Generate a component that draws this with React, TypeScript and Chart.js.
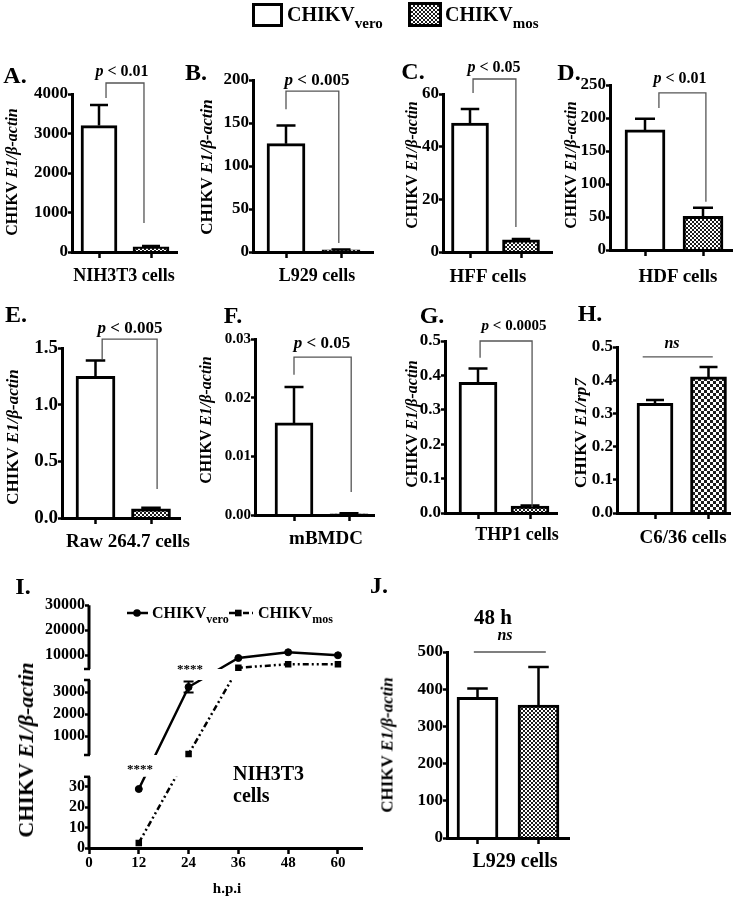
import React, { useEffect, useRef } from 'react';
import { Chart, registerables } from 'chart.js';

Chart.register(...registerables);

const FONT = "'Liberation Serif', 'Times New Roman', Times, serif";

// ---------- data ----------
const GROUPS = ['CHIKVvero', 'CHIKVmos'];

const A_MEAN = [3200, 130];
const A_SEM = [520, 20];
const B_MEAN = [126, 2.5];
const B_SEM = [21, 0.5];
const C_MEAN = [49, 4.6];
const C_SEM = [5.3, 0.3];
const D_MEAN = [182, 51];
const D_SEM = [17, 13];
const E_MEAN = [1.25, 0.08];
const E_SEM = [0.14, 0.01];
const F_MEAN = [0.0157, 0.0002];
const F_SEM = [0.0061, 0.0001];
const G_MEAN = [0.38, 0.02];
const G_SEM = [0.04, 0.002];
const H_MEAN = [0.33, 0.41];
const H_SEM = [0.01, 0.03];
const J_MEAN = [378, 357];
const J_SEM = [24, 103];

const I_HOURS = [12, 24, 36, 48, 60];
const I_VERO = [29, 3230, 8900, 11200, 10000];
const I_VERO_SEM = [0, 250, 0, 0, 0];
const I_MOS = [2.5, 180, 5000, 6400, 6400];
const I_X_TICKS = [0, 12, 24, 36, 48, 60];
const I_Y_TICKS = [0, 10, 20, 30, 1000, 2000, 3000, 10000, 20000, 30000];

// broken y-axis of panel I: value range -> virtual range (1 virtual unit = 1px)
const I_BREAKS = [
  { lo: 0, hi: 35, from: 0, to: 71.2 },
  { lo: 140, hi: 3550, from: 93, to: 168 },
  { lo: 4500, hi: 30000, from: 179, to: 242.75 },
];

function toV(val: number) {
  for (const s of I_BREAKS) {
    if (val <= s.hi) return s.from + ((val - s.lo) / (s.hi - s.lo)) * (s.to - s.from);
  }
  const s = I_BREAKS[I_BREAKS.length - 1];
  return s.from + ((val - s.lo) / (s.hi - s.lo)) * (s.to - s.from);
}

// ---------- bar panel layout ----------
const PANELS: any[] = [
  { key: 'A', mean: A_MEAN, sem: A_SEM, max: 4000, step: 1000, dec: 0, L: 72, R: 177, c1: 99, c2: 151, y0: 252, yTop: 94, barW: 36, font: 17, cell: 2,
    bracket: { x1: 1.135, x2: 1.865, top: 4278, y1: 3899, y2: 734 } },
  { key: 'B', mean: B_MEAN, sem: B_SEM, max: 200, step: 50, dec: 0, L: 253, R: 373, c1: 286, c2: 341, y0: 252, yTop: 80, barW: 38, font: 17, cell: 2,
    bracket: { x1: 1.0, x2: 1.96, top: 187, y1: 166, y2: 10.5 } },
  { key: 'C', mean: C_MEAN, sem: C_SEM, max: 60, step: 20, dec: 0, L: 443, R: 552, c1: 470, c2: 521, y0: 252, yTop: 94, barW: 37, font: 17, cell: 2,
    bracket: { x1: 1.06, x2: 1.9, top: 65.7, y1: 60.4, y2: 9.5 } },
  { key: 'D', mean: D_MEAN, sem: D_SEM, max: 250, step: 50, dec: 0, L: 610, R: 732, c1: 645, c2: 703, y0: 250, yTop: 85, barW: 40, font: 17, cell: 2,
    bracket: { x1: 1.24, x2: 2.05, top: 238, y1: 215, y2: 73 } },
  { key: 'E', mean: E_MEAN, sem: E_SEM, max: 1.5, step: 0.5, dec: 1, L: 62, R: 180, c1: 95.5, c2: 151, y0: 518, yTop: 348, barW: 39, font: 19, cell: 2,
    bracket: { x1: 1.12, x2: 2.11, top: 1.579, y1: 1.4, y2: 0.256 } },
  { key: 'F', mean: F_MEAN, sem: F_SEM, max: 0.03, step: 0.01, dec: 2, L: 255, R: 374, c1: 294, c2: 349, y0: 515, yTop: 339, barW: 38, font: 15, cell: 2,
    bracket: { x1: 1.0, x2: 2.04, top: 0.0269, y1: 0.0239, y2: 0.0039 } },
  { key: 'G', mean: G_MEAN, sem: G_SEM, max: 0.5, step: 0.1, dec: 1, L: 445, R: 557, c1: 478, c2: 530, y0: 513, yTop: 341, barW: 38, font: 17, cell: 2,
    bracket: { x1: 1.04, x2: 2.04, top: 0.5, y1: 0.451, y2: 0.0174 } },
  { key: 'H', mean: H_MEAN, sem: H_SEM, max: 0.5, step: 0.1, dec: 1, L: 617, R: 730, c1: 655, c2: 708.5, y0: 513, yTop: 347, barW: 36, font: 17, cell: 3,
    bracket: { x1: 0.77, x2: 2.08, top: 0.47, y1: 0.47, y2: 0.47 } },
  { key: 'J', mean: J_MEAN, sem: J_SEM, max: 500, step: 100, dec: 0, L: 447, R: 569, c1: 477.5, c2: 538.5, y0: 838, yTop: 652, barW: 41, font: 17, cell: 2,
    bracket: { x1: 0.94, x2: 2.12, top: 500, y1: 500, y2: 500 } },
];

const WY = 50;
const HX = 10;

function barGeom(p: any) {
  const left = p.L - 60;
  const top = p.yTop - 50;
  const right = Math.min(p.R + 6, 736);
  const bottom = p.y0 + 15;
  return {
    left, top, width: right - left, height: bottom - top,
    pad: { left: 60 - WY, top: 50, right: right - p.R, bottom: 15 - HX },
  };
}

function tile(size: number, dark: string) {
  const c = document.createElement('canvas');
  c.width = size * 2;
  c.height = size * 2;
  const g = c.getContext('2d')!;
  g.fillStyle = '#fff';
  g.fillRect(0, 0, size * 2, size * 2);
  g.fillStyle = dark;
  g.fillRect(0, 0, size, size);
  g.fillRect(size, size, size, size);
  return c;
}

function buildBar(canvas: HTMLCanvasElement, p: any) {
  const geo = barGeom(p);
  const ctx = canvas.getContext('2d')!;
  const pat = ctx.createPattern(tile(p.cell, '#1c1c1c'), 'repeat');
  const unit = p.c2 - p.c1;
  const xmin = 1 - (p.c1 - p.L) / unit;
  const xmax = 2 + (p.R - p.c2) / unit;
  const tickFont = { family: FONT, size: p.font, weight: 'bold' as const };
  return new Chart(canvas, {
    type: 'bar',
    data: {
      datasets: [
        {
          label: GROUPS.join(' / '),
          data: p.mean.map((v: number, i: number) => ({ x: i + 1, y: v })),
          backgroundColor: ['#ffffff', pat as any],
          borderColor: '#000',
          borderWidth: 3,
          barThickness: p.barW,
          borderSkipped: 'start',
        } as any,
      ],
    },
    options: {
      animation: false,
      responsive: false,
      events: [],
      layout: { padding: geo.pad },
      plugins: { legend: { display: false }, tooltip: { enabled: false } },
      scales: {
        x: {
          type: 'linear',
          min: xmin,
          max: xmax,
          offset: false,
          afterBuildTicks: (s: any) => { s.ticks = [{ value: 1 }, { value: 2 }]; },
          afterFit: (s: any) => { s.height = HX; },
          ticks: { autoSkip: false, callback: () => '', font: tickFont },
          grid: { display: true, offset: false, drawOnChartArea: false, drawTicks: true, tickLength: 6, tickWidth: 2.5, tickColor: '#000' },
          border: { display: true, color: '#000', width: 3, z: 1 },
        } as any,
        y: {
          type: 'linear',
          min: 0,
          max: p.max,
          afterFit: (s: any) => { s.width = WY; },
          ticks: {
            stepSize: p.step,
            autoSkip: false,
            padding: 0,
            color: '#000',
            font: tickFont,
            callback: (v: any) => Number(v).toFixed(p.dec),
          },
          grid: { display: true, drawOnChartArea: false, drawTicks: true, tickLength: 4, tickWidth: 2.5, tickColor: '#000' },
          border: { display: true, color: '#000', width: 3, z: 1 },
        } as any,
      },
    },
    plugins: [
      {
        id: 'annot' + p.key,
        afterDatasetsDraw(chart: any) {
          const c = chart.ctx;
          const x = chart.scales.x;
          const y = chart.scales.y;
          c.save();
          c.strokeStyle = '#000';
          c.lineWidth = 2.5;
          p.mean.forEach((m: number, i: number) => {
            const e = p.sem[i];
            if (!e) return;
            const px = x.getPixelForValue(i + 1);
            const yb = y.getPixelForValue(m);
            const yt = y.getPixelForValue(m + e);
            const hw = p.barW / 4;
            c.beginPath();
            c.moveTo(px, yb);
            c.lineTo(px, yt);
            c.moveTo(px - hw, yt);
            c.lineTo(px + hw, yt);
            c.stroke();
          });
          const b = p.bracket;
          c.strokeStyle = '#555';
          c.lineWidth = 1.3;
          c.beginPath();
          c.moveTo(x.getPixelForValue(b.x1), y.getPixelForValue(b.y1));
          c.lineTo(x.getPixelForValue(b.x1), y.getPixelForValue(b.top));
          c.lineTo(x.getPixelForValue(b.x2), y.getPixelForValue(b.top));
          c.lineTo(x.getPixelForValue(b.x2), y.getPixelForValue(b.y2));
          c.stroke();
          c.restore();
        },
      },
    ],
  });
}

// ---------- panel I (line, broken axis) ----------
const I_GEO = { left: 20, top: 590, width: 352, height: 290 };

function buildLine(canvas: HTMLCanvasElement) {
  const vTop = I_BREAKS[I_BREAKS.length - 1].to;
  const L = 89, R = 362, Y0 = 848;
  const pad = {
    left: L - I_GEO.left - 60,
    top: Y0 - vTop - I_GEO.top,
    right: I_GEO.left + I_GEO.width - R,
    bottom: I_GEO.top + I_GEO.height - Y0 - 28,
  };
  const vero = I_HOURS.map((h, i) => ({ x: h, y: toV(I_VERO[i]) }));
  const mos = I_HOURS.map((h, i) => ({ x: h, y: toV(I_MOS[i]) }));
  const tf = (size: number) => ({ family: FONT, size, weight: 'bold' as const });
  return new Chart(canvas, {
    type: 'line',
    data: {
      datasets: [
        { label: 'CHIKVvero', data: vero, borderColor: '#000', borderWidth: 2.5, pointRadius: 0, tension: 0, fill: false },
        { label: 'CHIKVmos', data: mos, borderColor: '#000', borderWidth: 2.5, borderDash: [6, 3, 2, 3, 2, 3], pointRadius: 0, tension: 0, fill: false },
        { label: 'vero pts', data: vero, showLine: false, pointStyle: 'circle', pointRadius: 3.5, pointBorderWidth: 1, pointBackgroundColor: '#000', pointBorderColor: '#000' },
        { label: 'mos pts', data: mos, showLine: false, pointStyle: 'rect', pointRadius: 4.6, pointBorderWidth: 0, pointBackgroundColor: '#000', pointBorderColor: '#000' },
      ] as any,
    },
    options: {
      animation: false,
      responsive: false,
      events: [],
      layout: { padding: pad },
      plugins: { legend: { display: false }, tooltip: { enabled: false } },
      scales: {
        x: {
          type: 'linear',
          min: 0,
          max: 65.8,
          afterBuildTicks: (s: any) => { s.ticks = I_X_TICKS.map((v) => ({ value: v })); },
          afterFit: (s: any) => { s.height = 28; },
          ticks: { autoSkip: false, maxRotation: 0, padding: 0, color: '#000', font: tf(15) },
          grid: { display: true, drawOnChartArea: false, drawTicks: true, tickLength: 6, tickWidth: 2.5, tickColor: '#000' },
          border: { display: true, color: '#000', width: 3, z: 1 },
        } as any,
        y: {
          type: 'linear',
          min: 0,
          max: vTop,
          afterBuildTicks: (s: any) => { s.ticks = I_Y_TICKS.map((v) => ({ value: toV(v) })); },
          afterFit: (s: any) => { s.width = 60; },
          ticks: { autoSkip: false, padding: 0, color: '#000', font: tf(16), callback: (_v: any, i: number) => String(I_Y_TICKS[i]) },
          grid: { display: true, drawOnChartArea: false, drawTicks: true, tickLength: 4, tickWidth: 2.5, tickColor: '#000' },
          border: { display: false },
        } as any,
      },
    },
    plugins: [
      {
        id: 'broken',
        beforeDatasetDraw(chart: any, args: any) {
          if (args.index > 1) return;
          const c = chart.ctx;
          const a = chart.chartArea;
          const y = chart.scales.y;
          c.save();
          c.beginPath();
          for (const s of I_BREAKS) {
            const t = y.getPixelForValue(s.to);
            const b = y.getPixelForValue(s.from);
            c.rect(a.left, t, a.right - a.left + 10, b - t + (s.from === 0 ? 4 : 0));
          }
          c.clip();
        },
        afterDatasetDraw(chart: any, args: any) {
          if (args.index <= 1) chart.ctx.restore();
        },
        afterDatasetsDraw(chart: any) {
          const c = chart.ctx;
          const x = chart.scales.x;
          const y = chart.scales.y;
          c.save();
          c.strokeStyle = '#000';
          c.lineWidth = 2;
          I_HOURS.forEach((h, i) => {
            const e = I_VERO_SEM[i];
            if (!e) return;
            const px = x.getPixelForValue(h);
            const y1 = y.getPixelForValue(toV(I_VERO[i] - e));
            const y2 = y.getPixelForValue(toV(I_VERO[i] + e));
            c.beginPath();
            c.moveTo(px, y1); c.lineTo(px, y2);
            c.moveTo(px - 5, y2); c.lineTo(px + 5, y2);
            c.moveTo(px - 5, y1); c.lineTo(px + 5, y1);
            c.stroke();
          });
          c.restore();
        },
        afterDraw(chart: any) {
          const c = chart.ctx;
          const a = chart.chartArea;
          const y = chart.scales.y;
          const ax = a.left;
          c.save();
          c.strokeStyle = '#000';
          c.lineWidth = 3;
          I_BREAKS.forEach((s, i) => {
            const b = y.getPixelForValue(s.from) + (s.from === 0 ? 1.5 : 0);
            const t = y.getPixelForValue(s.to);
            c.beginPath();
            c.moveTo(ax, b);
            c.lineTo(ax, t);
            c.stroke();
            c.lineWidth = 2.5;
            c.beginPath();
            if (s.from !== 0) { c.moveTo(ax - 5, y.getPixelForValue(s.from)); c.lineTo(ax + 1, y.getPixelForValue(s.from)); }
            if (i !== I_BREAKS.length - 1) { c.moveTo(ax - 5, t); c.lineTo(ax + 1, t); }
            c.stroke();
            c.lineWidth = 3;
          });
          // legend markers (page coords -> canvas coords)
          const ox = I_GEO.left, oy = I_GEO.top;
          const ly = 613 - oy;
          c.lineWidth = 2.5;
          c.beginPath();
          c.moveTo(127 - ox, ly); c.lineTo(148 - ox, ly);
          c.stroke();
          c.fillStyle = '#000';
          c.beginPath();
          c.arc(137 - ox, ly, 3.8, 0, Math.PI * 2);
          c.fill();
          c.setLineDash([6, 3, 2, 3]);
          c.beginPath();
          c.moveTo(229 - ox, ly); c.lineTo(253 - ox, ly);
          c.stroke();
          c.setLineDash([]);
          c.fillRect(235 - ox, ly - 3.3, 6.6, 6.6);
          c.restore();
        },
      },
    ],
  });
}

// ---------- React components ----------
function ChartCanvas({ geo, build }: any) {
  const ref = useRef<HTMLCanvasElement | null>(null);
  useEffect(() => {
    const chart = build(ref.current);
    return () => chart.destroy();
  }, []);
  return (
    <canvas
      ref={ref}
      width={geo.width}
      height={geo.height}
      style={{ position: 'absolute', left: geo.left, top: geo.top, width: geo.width, height: geo.height }}
    />
  );
}

function T({ x, y, size, children, rot, italic, align, weight }: any) {
  const tx = align === 'left' ? '0' : '-50%';
  return (
    <div
      style={{
        position: 'absolute',
        left: x,
        top: y,
        transform: `translate(${tx}, -50%)${rot ? ' rotate(-90deg)' : ''}`,
        fontFamily: FONT,
        fontSize: size,
        fontWeight: weight || 'bold',
        fontStyle: italic ? 'italic' : 'normal',
        lineHeight: 1,
        whiteSpace: 'nowrap',
        color: '#000',
      }}
    >
      {children}
    </div>
  );
}

const YL = () => (
  <>
    CHIKV <i>E1/β-actin</i>
  </>
);

const Sub = ({ s, size, dy }: any) => (
  <span style={{ fontSize: size, position: 'relative', top: dy }}>{s}</span>
);

export default function App() {
  const checker = 'repeating-conic-gradient(#1c1c1c 0% 25%, #ffffff 0% 50%) 0 0 / 4px 4px';
  return (
    <div style={{ position: 'absolute', left: 0, top: 0, width: 738, height: 898, overflow: 'hidden', background: '#fff' }}>
      {PANELS.map((p) => (
        <ChartCanvas key={p.key} geo={barGeom(p)} build={(cv: HTMLCanvasElement) => buildBar(cv, p)} />
      ))}
      <ChartCanvas geo={I_GEO} build={buildLine} />

      {/* top legend */}
      <div style={{ position: 'absolute', left: 252, top: 3, width: 31, height: 24, border: '3px solid #000', boxSizing: 'border-box', background: '#fff' }} />
      <T x={287} y={14} size={20} align="left">CHIKV<Sub s="vero" size={15} dy={7} /></T>
      <div style={{ position: 'absolute', left: 408, top: 2, width: 34, height: 25, border: '3px solid #000', boxSizing: 'border-box', background: checker }} />
      <T x={445} y={14} size={20} align="left">CHIKV<Sub s="mos" size={15} dy={7} /></T>

      {/* panel letters */}
      <T x={15} y={75} size={24}>A.</T>
      <T x={196} y={72} size={24}>B.</T>
      <T x={413} y={71} size={24}>C.</T>
      <T x={569} y={72} size={24}>D.</T>
      <T x={16} y={314} size={24}>E.</T>
      <T x={233} y={315} size={24}>F.</T>
      <T x={432} y={315} size={24}>G.</T>
      <T x={590} y={313} size={24}>H.</T>
      <T x={23} y={586} size={24}>I.</T>
      <T x={379} y={585} size={24}>J.</T>

      {/* y-axis titles */}
      <T x={12} y={172} size={16} rot><YL /></T>
      <T x={206} y={167} size={17} rot><YL /></T>
      <T x={412} y={165} size={16} rot><YL /></T>
      <T x={571} y={165} size={16} rot><YL /></T>
      <T x={12} y={437} size={17} rot><YL /></T>
      <T x={206} y={420} size={16} rot><YL /></T>
      <T x={412} y={424} size={16} rot><YL /></T>
      <T x={580} y={433} size={17} rot>CHIKV <i>E1/rp7</i></T>
      <T x={26} y={750} size={22} rot><YL /></T>
      <T x={387} y={745} size={17} rot><YL /></T>

      {/* x-axis titles */}
      <T x={124} y={275} size={18}>NIH3T3 cells</T>
      <T x={317} y={275} size={18}>L929 cells</T>
      <T x={488} y={275} size={19}>HFF cells</T>
      <T x={678} y={275} size={19}>HDF cells</T>
      <T x={128} y={540} size={19}>Raw 264.7 cells</T>
      <T x={326} y={537} size={19}>mBMDC</T>
      <T x={517} y={534} size={18}>THP1 cells</T>
      <T x={683} y={536} size={19}>C6/36 cells</T>
      <T x={515} y={860} size={20}>L929 cells</T>

      {/* significance labels */}
      <T x={122} y={71} size={16}><i>p</i> &lt; 0.01</T>
      <T x={317} y={79} size={17}><i>p</i> &lt; 0.005</T>
      <T x={494} y={67} size={16}><i>p</i> &lt; 0.05</T>
      <T x={680} y={78} size={16}><i>p</i> &lt; 0.01</T>
      <T x={130} y={327} size={17}><i>p</i> &lt; 0.005</T>
      <T x={322} y={342} size={17}><i>p</i> &lt; 0.05</T>
      <T x={514} y={325} size={15}><i>p</i> &lt; 0.0005</T>
      <T x={672} y={343} size={16} italic>ns</T>
      <T x={505} y={635} size={16} italic>ns</T>
      <T x={493} y={617} size={21}>48 h</T>

      {/* panel I texts */}
      <T x={152} y={613} size={16} align="left">CHIKV<Sub s="vero" size={12} dy={5} /></T>
      <T x={258} y={613} size={16} align="left">CHIKV<Sub s="mos" size={12} dy={5} /></T>
      <T x={140} y={768} size={13}>****</T>
      <T x={190} y={668} size={13}>****</T>
      <T x={233} y={773} size={20} align="left">NIH3T3</T>
      <T x={233} y={795} size={20} align="left">cells</T>
      <T x={227} y={888} size={15}>h.p.i</T>
    </div>
  );
}
